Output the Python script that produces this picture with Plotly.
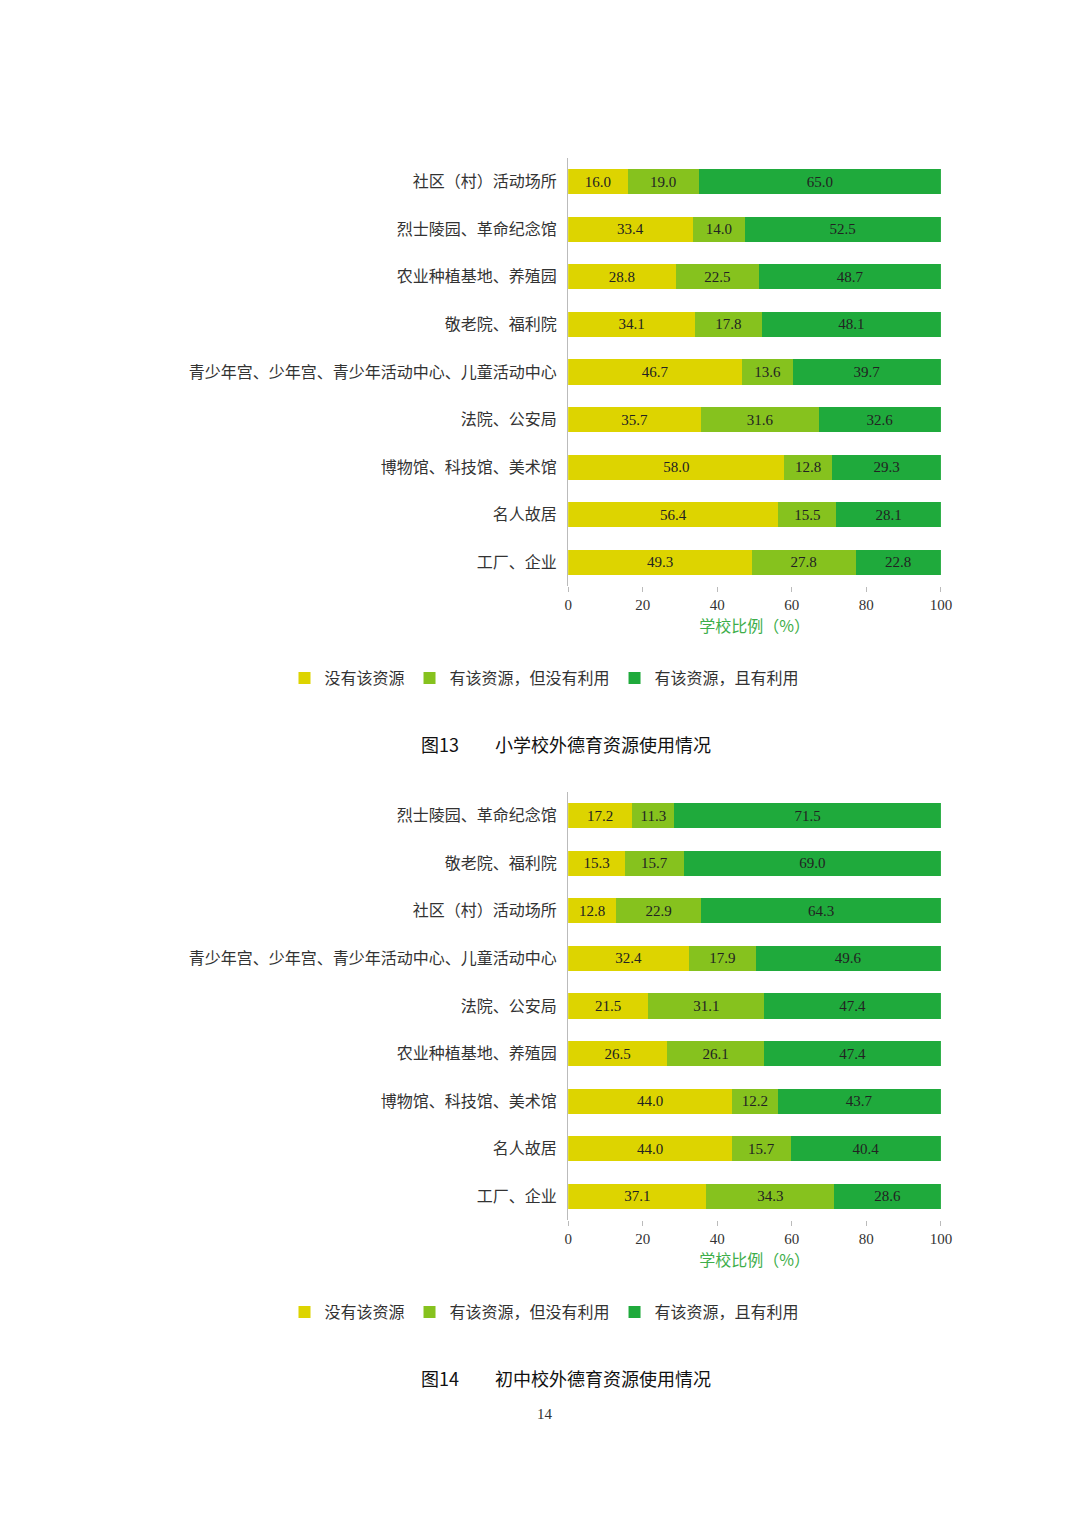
import plotly.graph_objects as go

cats1 = ["社区（村）活动场所","烈士陵园、革命纪念馆","农业种植基地、养殖园","敬老院、福利院",
         "青少年宫、少年宫、青少年活动中心、儿童活动中心","法院、公安局","博物馆、科技馆、美术馆","名人故居","工厂、企业"]
none1 = [16.0,33.4,28.8,34.1,46.7,35.7,58.0,56.4,49.3]
unused1 = [19.0,14.0,22.5,17.8,13.6,31.6,12.8,15.5,27.8]
used1 = [65.0,52.5,48.7,48.1,39.7,32.6,29.3,28.1,22.8]

cats2 = ["烈士陵园、革命纪念馆","敬老院、福利院","社区（村）活动场所",
         "青少年宫、少年宫、青少年活动中心、儿童活动中心","法院、公安局","农业种植基地、养殖园",
         "博物馆、科技馆、美术馆","名人故居","工厂、企业"]
none2 = [17.2,15.3,12.8,32.4,21.5,26.5,44.0,44.0,37.1]
unused2 = [11.3,15.7,22.9,17.9,31.1,26.1,12.2,15.7,34.3]
used2 = [71.5,69.0,64.3,49.6,47.4,47.4,43.7,40.4,28.6]

series_names = ["没有该资源","有该资源，但没有利用","有该资源，且有利用"]
colors = ["#DDD400","#86C21E","#1FAA3C"]
titles = ["图13　　小学校外德育资源使用情况","图14　　初中校外德育资源使用情况"]

CJK = "Noto Sans CJK SC"
SERIF = "Liberation Serif"
H = 1527
def py(px): return 1 - px/H

fig = go.Figure()
for k,(cats,vals) in enumerate([(cats1,[none1,unused1,used1]),(cats2,[none2,unused2,used2])]):
    ax = "" if k == 0 else "2"
    for i in range(3):
        fig.add_trace(go.Bar(
            y=cats, x=vals[i], orientation="h", name=series_names[i],
            marker=dict(color=colors[i], line=dict(width=0)),
            text=[f"{v:.1f}" for v in vals[i]], textposition="inside", insidetextanchor="middle",
            textfont=dict(family=SERIF, size=15, color="#222"), constraintext="none",
            xaxis="x"+ax, yaxis="y"+ax, legend="legend"+ax, showlegend=True))

xd = [564/1080, 942/1080]
axis_x = dict(range=[0,100], dtick=20, showgrid=False, zeroline=False, showline=False,
              ticks="outside", ticklen=5, tickcolor="#bbb",
              tickfont=dict(family=SERIF, size=15, color="#333"),
              title=dict(text="学校比例（%）", font=dict(family=CJK, size=16, color="#3DAE4A"), standoff=8))
axis_y = dict(autorange="reversed", showline=True, linecolor="#bbb", linewidth=1,
              ticks="", tickfont=dict(family=CJK, size=16, color="#333"), ticksuffix="  ")

fig.update_layout(
    width=1080, height=H, margin=dict(l=0,r=0,t=0,b=0),
    paper_bgcolor="white", plot_bgcolor="white", barmode="stack", bargap=0.47,
    xaxis=dict(axis_x, domain=xd, anchor="y"),
    yaxis=dict(axis_y, domain=[py(578), py(150)], anchor="x"),
    xaxis2=dict(axis_x, domain=xd, anchor="y2"),
    yaxis2=dict(axis_y, domain=[py(1212), py(784)], anchor="x2"),
    legend=dict(orientation="h", x=0.5, xanchor="center", y=py(670), yanchor="middle",
                font=dict(family=CJK, size=16, color="#333"), itemwidth=30, traceorder="normal"),
    legend2=dict(orientation="h", x=0.5, xanchor="center", y=py(1304), yanchor="middle",
                 font=dict(family=CJK, size=16, color="#333"), itemwidth=30, traceorder="normal"),
    showlegend=True,
)
for t, ypx in zip(titles, [736, 1370]):
    fig.add_annotation(text=t, x=0.52, y=py(ypx), xref="paper", yref="paper", showarrow=False,
                       font=dict(family=CJK, size=18, color="#111"), yanchor="middle")
fig.add_annotation(text="14", x=0.5, y=py(1406), xref="paper", yref="paper", showarrow=False,
                   font=dict(family=SERIF, size=15, color="#333"), yanchor="middle")
fig.write_html("out.html")
